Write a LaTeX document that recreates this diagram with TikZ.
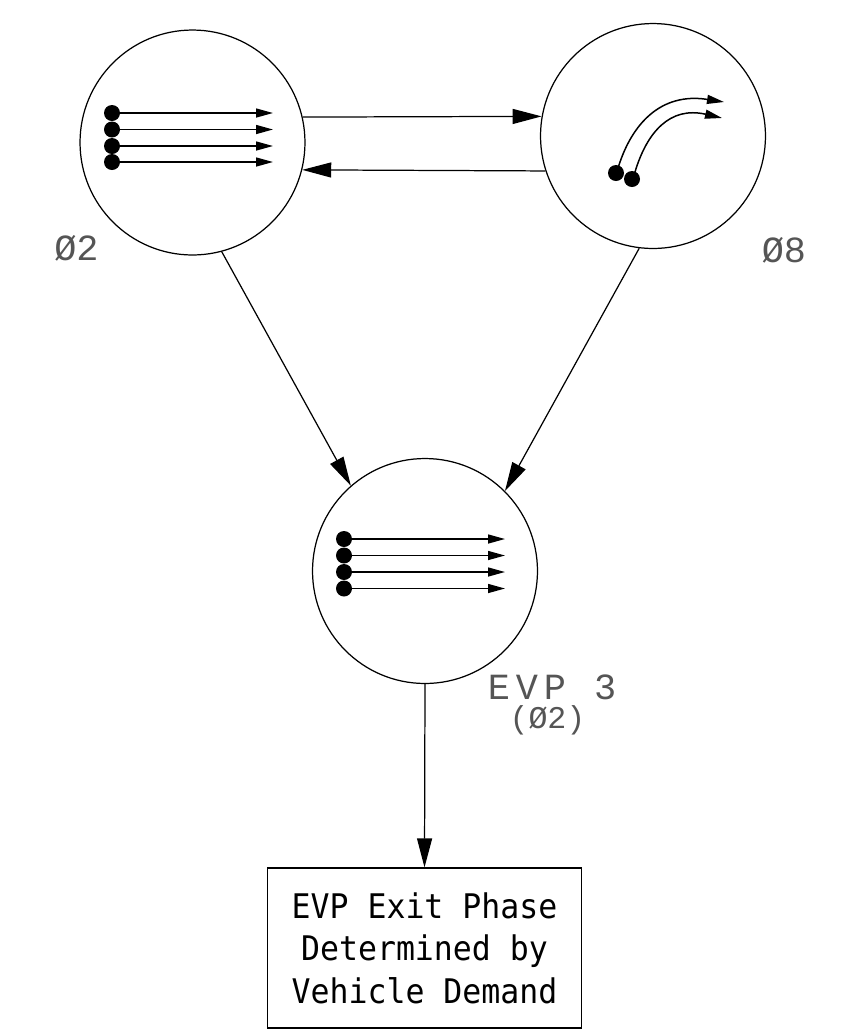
\documentclass[tikz,border=0pt]{standalone}
\usepackage{fontspec}
\usetikzlibrary{arrows.meta}
\newfontfamily\boxfont[FakeStretch=0.93]{DejaVu Sans Mono}
\newfontfamily\labelfont{Liberation Mono}
\definecolor{labelgray}{RGB}{85,85,85}
\newcommand{\lanedot}[1]{%
  \fill[black] #1 circle (8);
}
\tikzset{
  phase/.style={draw, circle, minimum size=4.5cm, inner sep=0pt, line width=0.7pt},
  exitbox/.style={draw, rectangle, minimum width=6.29cm, minimum height=3.2cm, inner sep=0pt, line width=0.7pt, align=center, font=\fontsize{19.3}{24.2}\selectfont\boxfont},
  phaselabel/.style={text=labelgray, inner sep=0pt, font=\fontsize{21}{24}\selectfont\labelfont},
  link/.style={line width=0.7pt, -{Triangle[length=0.58cm, width=0.3cm]}},
  lane/.style={line width=0.85pt, -{Triangle[length=0.34cm, width=0.18cm]}}
}
\begin{document}
\begin{tikzpicture}[x=0.02cm,y=-0.02cm]
    \useasboundingbox (0,0) rectangle (850,1036);
    \node[phase] (P2) at (192.5,142.5) {};
    \node[phase] (P8) at (653,136) {};
    \node[phase] (EVP) at (425,571) {};
    \node[exitbox] (Exit) at (424.5,948) {EVP Exit Phase\\Determined by\\Vehicle Demand};
    \draw[link] (P2.13) -- (P8.170);
    \draw[link] (P8.198) -- (P2.-14);
    \draw[link] (P2.-75) -- (EVP.131);
    \draw[link] (P8.263) -- (EVP.45);
    \draw[link] (EVP.south) -- (Exit.north);
    \foreach \y in {113,129.5,146,162} {
      \draw[lane] (112,\y) -- (273,\y);
      \lanedot{(112,\y)}
    }
    \foreach \y in {539,555.5,572,588.5} {
      \draw[lane] (344,\y) -- (505,\y);
      \lanedot{(344,\y)}
    }
    \draw[lane] (616,173) -- (619,165) .. controls (632,125) and (660,92) .. (724,102);
    \draw[lane] (632,179) -- (635,172) .. controls (647,132) and (670,106) .. (722,118);
    \lanedot{(616,173)}
    \lanedot{(632,179)}
    \node[phaselabel] (P2label) at (76.5,248) {Ø2};
    \node[phaselabel] (P8label) at (784,250) {Ø8};
    \node[phaselabel, font=\fontsize{21}{24}\selectfont\labelfont\addfontfeature{LetterSpace=16}] (EVPlabel) at (552,687) {EVP 3};
    \node[phaselabel, font=\fontsize{18}{24}\selectfont\labelfont] (EVPsub) at (547.5,720) {(Ø2)};
  \end{tikzpicture}
\end{document}
